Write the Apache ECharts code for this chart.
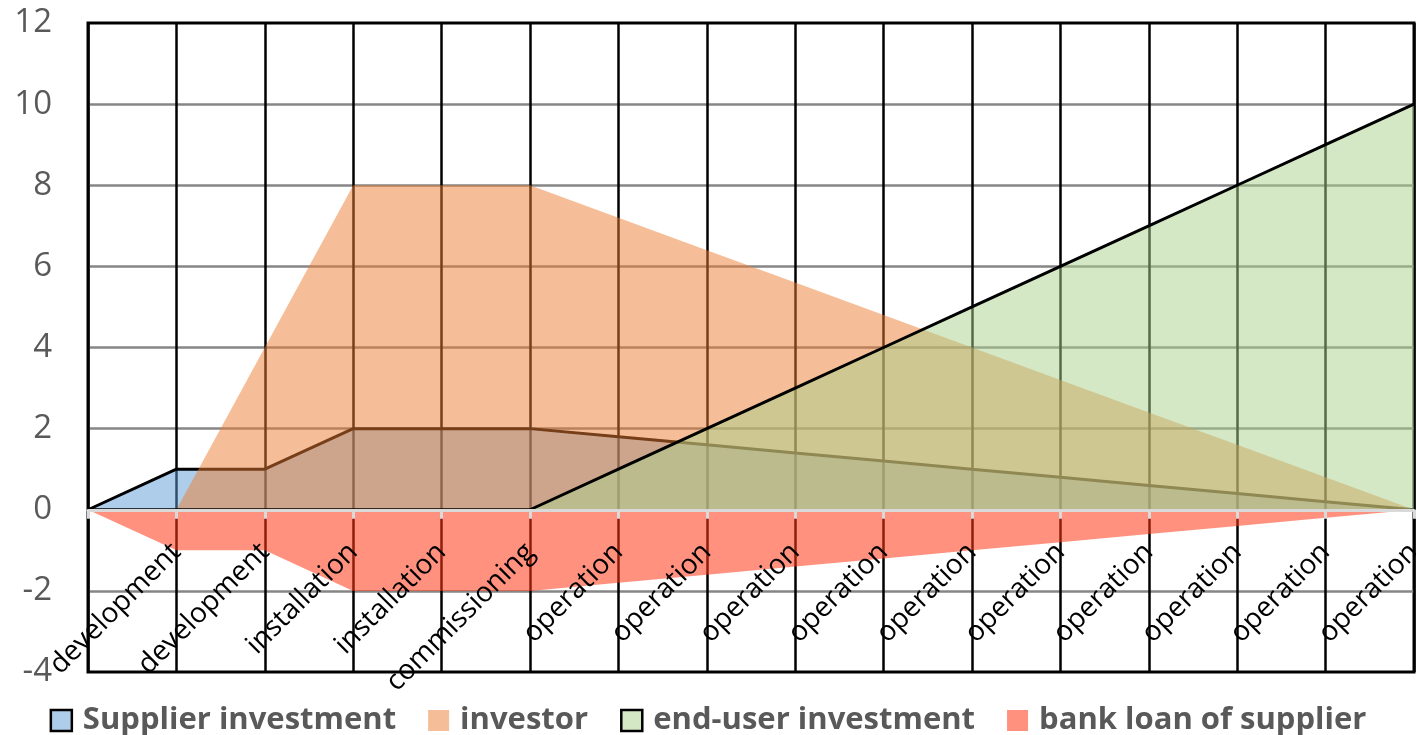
<!DOCTYPE html>
<html>
<head>
<meta charset="utf-8">
<title>Investment profile</title>
<script src="https://cdn.jsdelivr.net/npm/echarts@6.0.0/dist/echarts.min.js"></script>
<style>
  html, body { margin: 0; padding: 0; background: #fff; }
  #chart { width: 1416px; height: 735px; }
</style>
</head>
<body>
<div id="chart"></div>
<script>
// categories (first slot has no label in the original)
const categories = ["", "development", "development", "installation", "installation", "commissioning",
  "operation", "operation", "operation", "operation", "operation",
  "operation", "operation", "operation", "operation", "operation"];

const supplierInvestment = [0, 1, 1, 2, 2, 2, 1.8, 1.6, 1.4, 1.2, 1, 0.8, 0.6, 0.4, 0.2, 0];
const investor = [0, 0, 4, 8, 8, 8, 7.2, 6.4, 5.6, 4.8, 4, 3.2, 2.4, 1.6, 0.8, 0];
const endUserInvestment = [0, 0, 0, 0, 0, 0, 1, 2, 3, 4, 5, 6, 7, 8, 9, 10];
const bankLoan = [0, -1, -1, -2, -2, -2, -1.8, -1.6, -1.4, -1.2, -1, -0.8, -0.6, -0.4, -0.2, 0];

const yMin = -4;
const yMax = 12;
const yStep = 2;

const fontName = "Open Sans";

const chartHeight = 735;
const gridTop = 23;
const gridBottom = 63;
// move the category axis up from the bottom edge to the zero line
const plotHeight = chartHeight - gridTop - gridBottom;
const zeroOffset = -((0 - yMin) / (yMax - yMin)) * plotHeight;

const chart = echarts.init(document.getElementById("chart"), null, { renderer: "canvas" });

const chartOption = {
  animation: false,
  textStyle: { fontFamily: fontName },
  grid: {
    left: 88,
    right: 2,
    top: gridTop,
    bottom: gridBottom,
    show: true,
    borderColor: "#000",
    borderWidth: 3,
    backgroundColor: "transparent",
    outerBoundsMode: "none"
  },
  legend: {
    left: "center",
    top: 700,
    icon: "rect",
    itemWidth: 21,
    itemHeight: 21,
    itemGap: 32,
    textStyle: {
      fontFamily: fontName,
      fontSize: 31,
      fontWeight: "bold",
      color: "#595959",
      padding: [0, 0, 0, 6]
    },
    data: [
      { name: "Supplier investment", itemStyle: { color: "#ADCDEA", borderColor: "#000", borderWidth: 2.5 } },
      { name: "investor", itemStyle: { color: "#F6BE98", borderWidth: 0 } },
      { name: "end-user investment", itemStyle: { color: "#D4E8C6", borderColor: "#000", borderWidth: 2.5 } },
      { name: "bank loan of supplier", itemStyle: { color: "#FF917E", borderWidth: 0 } }
    ]
  },
  xAxis: [
    {
      // visible zero axis with ticks and rotated labels, drawn on top of the areas
      type: "category",
      data: categories,
      boundaryGap: false,
      position: "bottom",
      offset: zeroOffset,
      z: 10,
      axisLine: { show: true, onZero: false, lineStyle: { color: "#D9D9D9", width: 3 } },
      axisTick: { show: true, length: 9, lineStyle: { color: "#D9D9D9", width: 3 } },
      axisLabel: {
        rotate: 45,
        margin: 38,
        interval: 0,
        color: "#000",
        fontFamily: fontName,
        fontSize: 28
      },
      splitLine: { show: false }
    },
    {
      // vertical gridlines only, under the areas
      type: "category",
      data: categories,
      boundaryGap: false,
      z: 0,
      axisLine: { show: false, onZero: false },
      axisTick: { show: false },
      axisLabel: { show: false },
      splitLine: { show: true, interval: 0, lineStyle: { color: "#000", width: 2.5 } }
    }
  ],
  yAxis: {
    type: "value",
    min: yMin,
    max: yMax,
    interval: yStep,
    axisLine: { show: false },
    axisTick: { show: false },
    axisLabel: {
      margin: 36,
      color: "#595959",
      fontFamily: fontName,
      fontSize: 33
    },
    splitLine: {
      show: true,
      showMinLine: false,
      showMaxLine: false,
      lineStyle: { color: "#868686", width: 2.5 }
    }
  },
  series: [
    {
      name: "Supplier investment",
      type: "line",
      z: 2,
      data: supplierInvestment,
      symbol: "none",
      lineStyle: { color: "#000", width: 3 },
      itemStyle: { color: "#ADCDEA" },
      areaStyle: { color: "rgba(91,155,213,0.5)", opacity: 1, origin: 0 }
    },
    {
      name: "investor",
      type: "line",
      z: 3,
      data: investor,
      symbol: "none",
      lineStyle: { width: 0 },
      itemStyle: { color: "#F6BE98" },
      areaStyle: { color: "rgba(237,125,49,0.5)", opacity: 1, origin: 0 }
    },
    {
      name: "end-user investment",
      type: "line",
      z: 4,
      data: endUserInvestment,
      symbol: "none",
      lineStyle: { color: "#000", width: 3 },
      itemStyle: { color: "#D4E8C6" },
      areaStyle: { color: "rgba(169,209,142,0.5)", opacity: 1, origin: 0 }
    },
    {
      name: "bank loan of supplier",
      type: "line",
      z: 5,
      data: bankLoan,
      symbol: "none",
      lineStyle: { width: 0 },
      itemStyle: { color: "#FF917E" },
      areaStyle: { color: "rgba(255,55,20,0.55)", opacity: 1, origin: 0 }
    }
  ]
};

chart.setOption(chartOption);
</script>
</body>
</html>
